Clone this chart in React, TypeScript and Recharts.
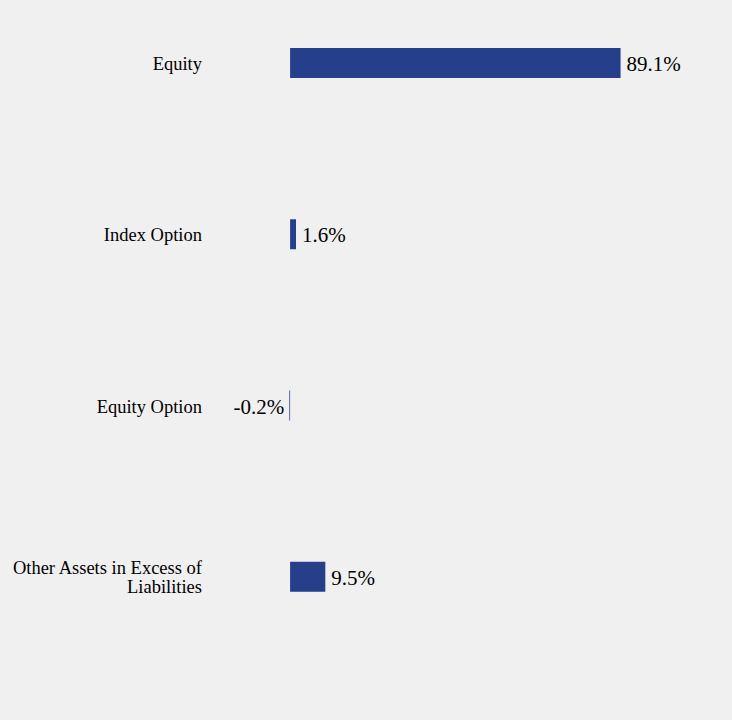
import React from 'react'
import { Bar, BarChart, LabelList, XAxis, YAxis } from 'recharts'

const categories = ['Equity', 'Index Option', 'Equity Option', 'Other Assets in Excess of Liabilities']
const values = [89.1, 1.6, -0.2, 9.5]
const valueLabels = ['89.1%', '1.6%', '-0.2%', '9.5%']
const categoryLines: Record<string, string[]> = {
  'Other Assets in Excess of Liabilities': ['Other Assets in Excess of', 'Liabilities']
}

const data = categories.map((name, i) => ({ name, value: values[i], label: valueLabels[i] }))

const BAR_COLOR = '#253f8a'
const FONT = '"Liberation Serif", "Times New Roman", serif'

function CategoryTick(props: { x?: number; y?: number; payload?: { value?: string } }) {
  const name = props.payload?.value || ''
  const lines = categoryLines[name] || [name]
  const x = 202
  const y = props.y ?? 0
  const start = -((lines.length - 1) * 19) / 2
  return (
    <text x={x} y={y} textAnchor="end" fill="#000" fontFamily={FONT} fontSize={18.5}>
      {lines.map((line, i) => (
        <tspan key={line} x={x} dy={i === 0 ? start + 7.5 : 19}>
          {line}
        </tspan>
      ))}
    </text>
  )
}

function ValueLabel(props: any) {
  const { x = 0, y = 0, width = 0, height = 0, index = 0 } = props
  const v = values[index]
  const left = Math.min(x, x + width)
  const right = Math.max(x, x + width)
  const cy = y + height / 2
  return (
    <text
      x={v < 0 ? left - 5 : right + 6}
      y={cy}
      dy={8}
      textAnchor={v < 0 ? 'end' : 'start'}
      fill="#000"
      fontFamily={FONT}
      fontSize={21}
    >
      {valueLabels[index]}
    </text>
  )
}

export default function App() {
  return (
    <div style={{ position: 'fixed', left: 0, top: 0, width: 732, height: 720, overflow: 'hidden', background: '#f0f0f0' }}>
      <div style={{ position: 'absolute', left: 0, top: -23 }}>
        <BarChart
          width={732}
          height={743}
          data={data}
          layout="vertical"
          margin={{ top: 0, right: 71, bottom: 58, left: 0 }}
        >
          <XAxis type="number" domain={[-10, 100]} hide />
          <YAxis
            type="category"
            dataKey="name"
            width={253}
            axisLine={false}
            tickLine={false}
            interval={0}
            tick={<CategoryTick />}
          />
          <Bar dataKey="value" fill={BAR_COLOR} barSize={30} isAnimationActive={false}>
            <LabelList dataKey="label" content={<ValueLabel />} />
          </Bar>
        </BarChart>
      </div>
    </div>
  )
}
